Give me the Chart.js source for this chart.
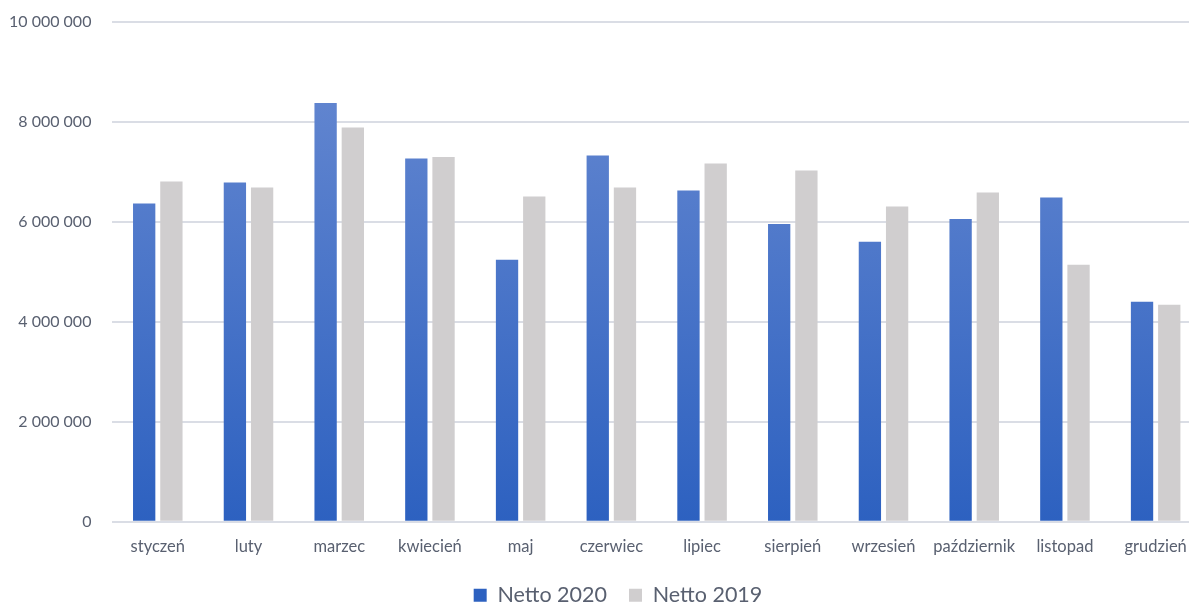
<!DOCTYPE html>
<html>
<head>
<meta charset="utf-8">
<script src="https://cdn.jsdelivr.net/npm/chart.js@4"></script>
<style>
    html, body { margin: 0; padding: 0; background: #fff; overflow: hidden; }
    /* plot runs a little past the right edge of the window, as in the source image */
    #wrap { width: 1201px; height: 604px; }
</style>
</head>
<body>
<div id="wrap"><canvas id="netto-chart"></canvas></div>
<script>
// Monthly net values
const months = ['styczeń', 'luty', 'marzec', 'kwiecień', 'maj', 'czerwiec',
    'lipiec', 'sierpień', 'wrzesień', 'październik', 'listopad', 'grudzień'];
const netto2020 = [6370000, 6790000, 8380000, 7270000, 5240000, 7330000,
    6630000, 5960000, 5600000, 6060000, 6490000, 4400000];
const netto2019 = [6810000, 6690000, 7890000, 7300000, 6510000, 6690000,
    7170000, 7030000, 6310000, 6590000, 5140000, 4340000];
const yTicks = [0, 2000000, 4000000, 6000000, 8000000, 10000000];

document.addEventListener('DOMContentLoaded', function() {
    const canvas = document.getElementById('netto-chart');
    const textColor = '#596070';
    const gridColor = '#dadde5';

    // Blue bars fade from lighter at the top to darker at the bottom
    function blueGradient(context) {
        const area = context.chart.chartArea;
        if (!area) return '#4472c4';
        const g = context.chart.ctx.createLinearGradient(0, area.top, 0, area.bottom);
        g.addColorStop(0, '#6a8bd2');
        g.addColorStop(1, '#2d61c0');
        return g;
    }

    // Legend sits a bit lower and right of the default spot
    const legendNudge = {
        id: 'legendNudge',
        beforeInit: function(chart) {
            const fit = chart.legend.fit;
            chart.legend.fit = function() {
                fit.call(this);
                this.height -= 12;
            };
        },
        afterLayout: function(chart) {
            chart.legend.left += 14;
            chart.legend.right += 14;
        }
    };

    new Chart(canvas, {
        type: 'bar',
        data: {
            labels: months,
            datasets: [
                {
                    label: 'Netto 2020',
                    data: netto2020,
                    backgroundColor: blueGradient,
                    borderWidth: 0,
                    categoryPercentage: 0.6,
                    barPercentage: 0.82
                },
                {
                    label: 'Netto 2019',
                    data: netto2019,
                    backgroundColor: '#d0cecf',
                    borderWidth: 0,
                    categoryPercentage: 0.6,
                    barPercentage: 0.82
                }
            ]
        },
        options: {
            responsive: true,
            maintainAspectRatio: false,
            animation: false,
            layout: {
                padding: { top: 22, left: 7, right: 0, bottom: 0 }
            },
            plugins: {
                legend: {
                    position: 'bottom',
                    labels: {
                        color: textColor,
                        font: { family: 'Lato', size: 21.5 },
                        boxWidth: 13,
                        boxHeight: 13,
                        padding: 22
                    }
                },
                tooltip: { enabled: false }
            },
            scales: {
                x: {
                    grid: { display: false },
                    border: { display: false },
                    ticks: {
                        color: textColor,
                        font: { family: 'Lato', size: 16.5 },
                        padding: 7,
                        maxRotation: 0,
                        autoSkip: false
                    },
                    afterFit: function(axis) {
                        axis.height -= 1;
                    }
                },
                y: {
                    min: 0,
                    max: 10000000,
                    afterBuildTicks: function(axis) {
                        axis.ticks = yTicks.map(v => ({ value: v }));
                    },
                    grid: { color: gridColor, lineWidth: 2, drawTicks: false },
                    border: { display: false },
                    ticks: {
                        color: textColor,
                        font: { family: 'Lato', size: 16 },
                        padding: 21,
                        callback: function(value) {
                            return String(value).replace(/\B(?=(\d{3})+(?!\d))/g, ' ');
                        }
                    },
                    afterFit: function(axis) {
                        axis.width -= 19;
                        // tick padding is horizontal here, drop it from the vertical overhang
                        axis.paddingTop = 0;
                        axis.paddingBottom = 0;
                    }
                }
            }
        },
        plugins: [legendNudge]
    });
});
</script>
</body>
</html>
